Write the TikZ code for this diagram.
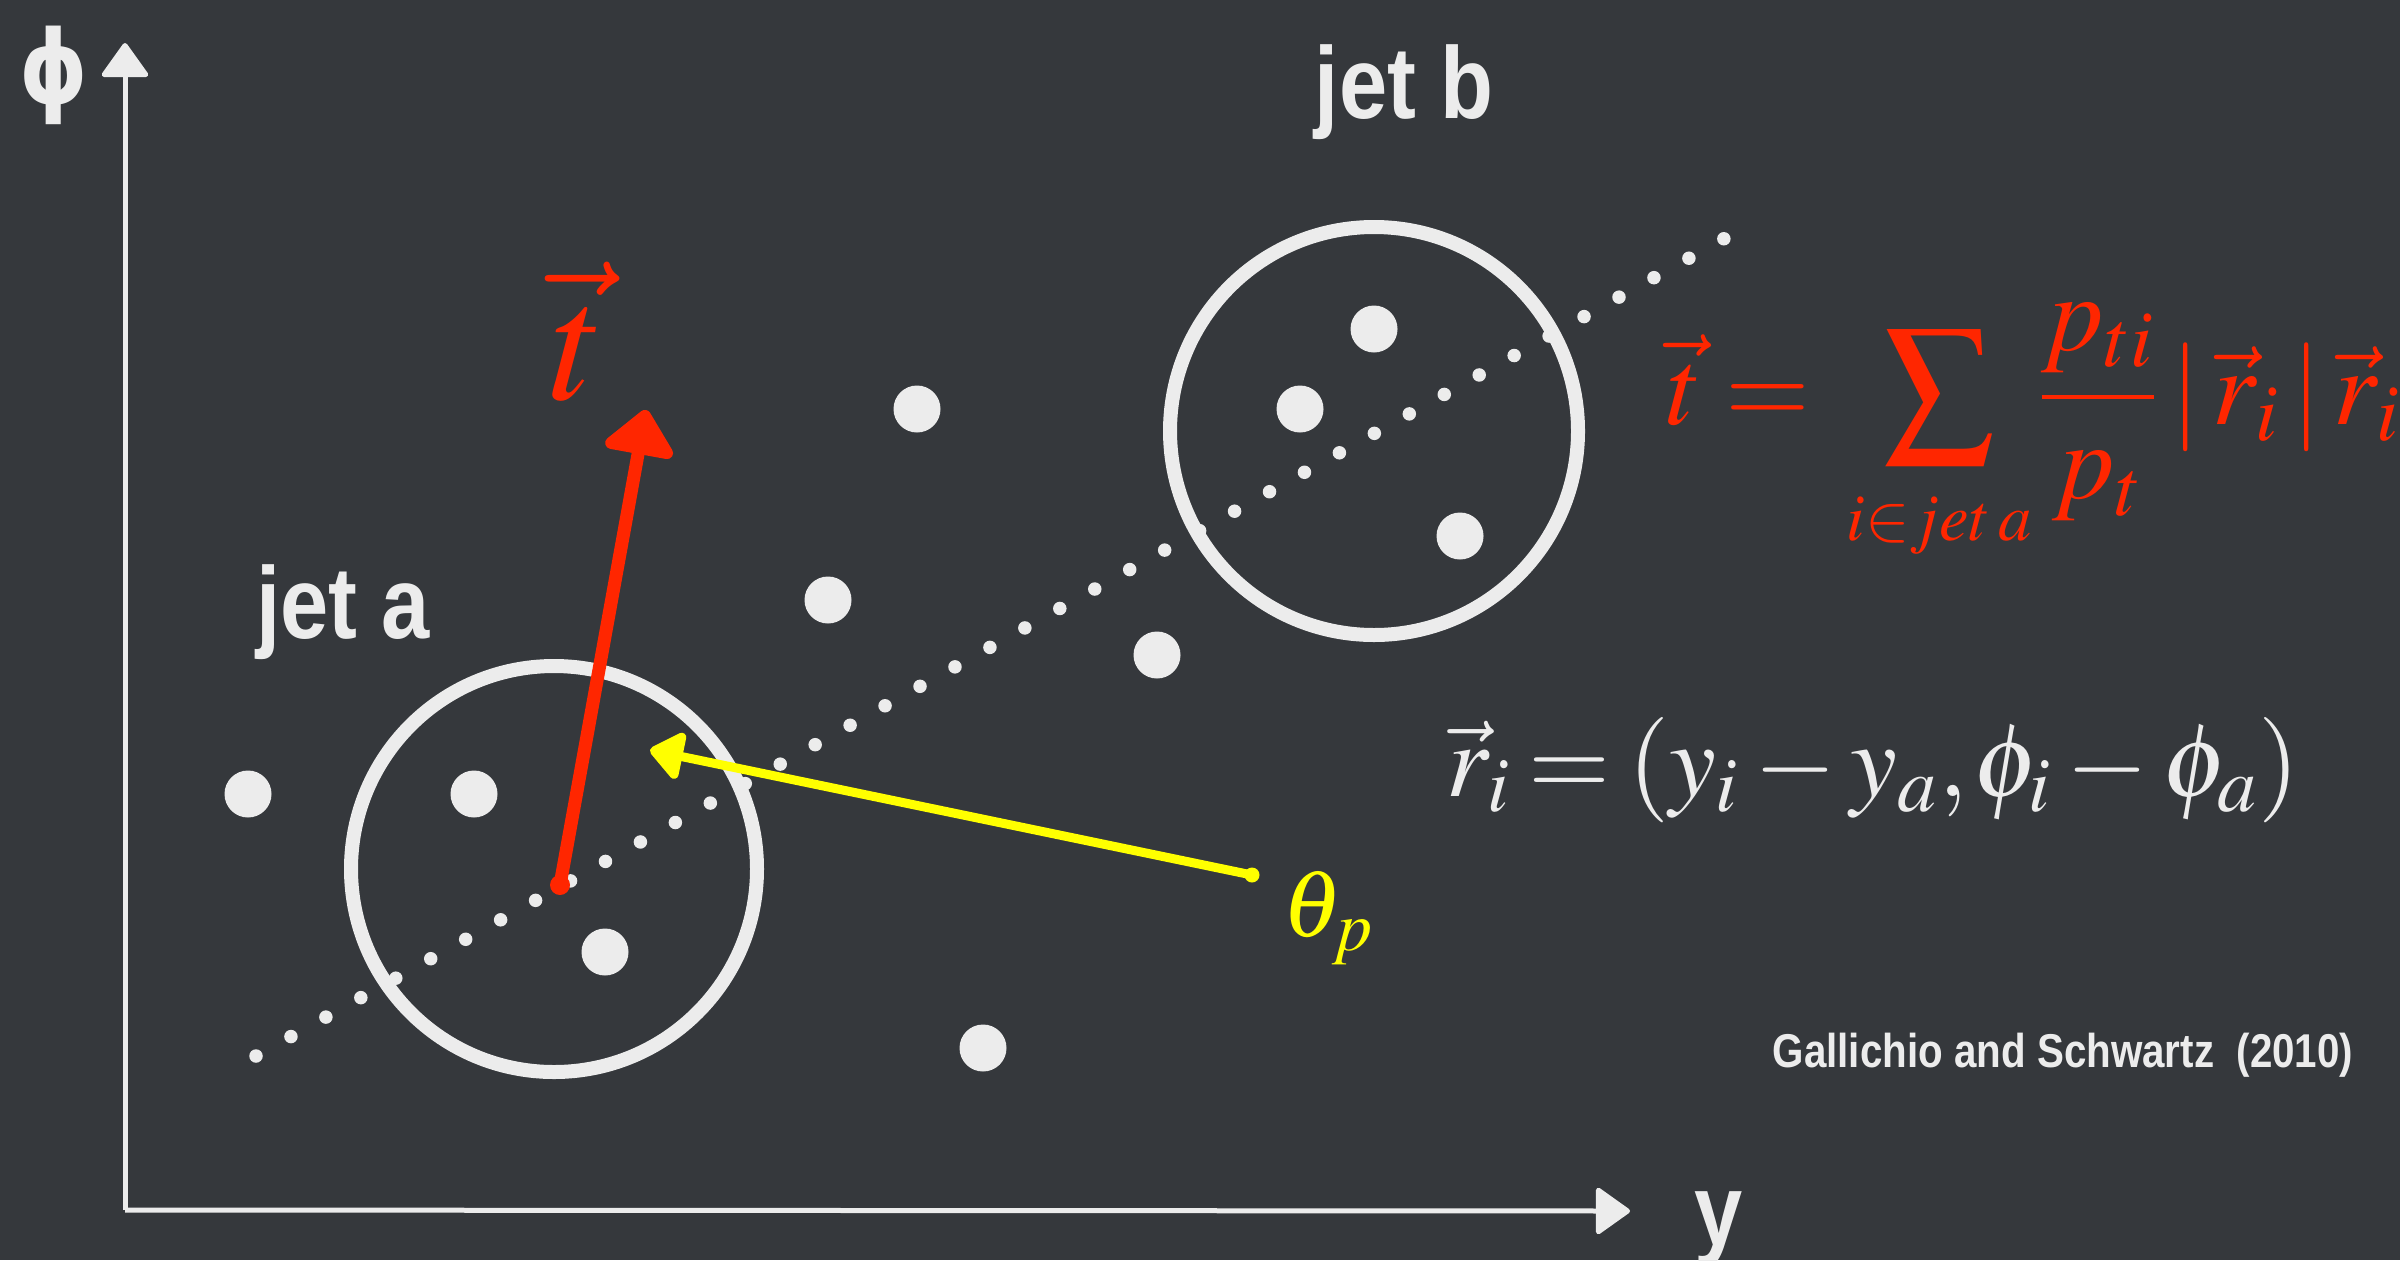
\documentclass[tikz,border=0pt]{standalone}
\usepackage{mathptmx}
\usepackage{fontspec}
\setmainfont{Liberation Serif}
\newfontfamily\labelfont[FakeStretch=0.85]{Liberation Sans}
\newfontfamily\phifont[FakeStretch=0.85]{DejaVu Sans}
\usetikzlibrary{arrows.meta}
\definecolor{slate}{RGB}{53,56,60}
\definecolor{chalk}{RGB}{236,236,236}
\definecolor{vecred}{RGB}{255,38,0}
\definecolor{thetayellow}{RGB}{255,255,0}

\begin{document}
\begin{tikzpicture}[
    particle/.style={circle, fill=chalk, inner sep=0pt, minimum size=4.7mm},
    jetcone/.style={draw=chalk, line width=1.4mm},
    axisline/.style={draw=chalk, line width=0.5mm, -{Triangle[length=3.6mm, width=5mm, round]}},
    axisdots/.style={draw=chalk, line width=1.35mm, line cap=round, dash pattern=on 0pt off 4mm},
    axislabel/.style={text=chalk, font=\labelfont\bfseries\fontsize{29}{34}\selectfont, inner sep=0pt},
    redarrow/.style={draw=vecred, line width=1.3mm, line cap=round, -{Triangle[length=4.8mm, width=8mm, round]}},
    yellowarrow/.style={draw=thetayellow, line width=0.9mm, line cap=round, -{Triangle[length=3.6mm, width=5.4mm, round]}}
]
\fill[slate] (0,0) rectangle (24,12.6);
\useasboundingbox (0,0) rectangle (24,12.6);

% axes
\coordinate (origin) at (1.25,0.50);
\coordinate (phiEnd) at (1.25,12.17);
\coordinate (yEnd) at (16.30,0.49);
\draw[axisline] (origin) -- (phiEnd);
\draw[axisline] (origin) -- (yEnd);
\node[axislabel, font=\phifont\bfseries\fontsize{29}{34}\selectfont] (phiLabel) at (0.54,11.85) {ϕ};
\node[axislabel, anchor=base] (yLabel) at (17.19,0.15) {y};

% jet axis
\coordinate (dotStart) at (2.56,2.04);
\coordinate (dotEnd) at (17.27,10.23);
\draw[axisdots] (dotStart) -- (dotEnd);

% jets
\draw[jetcone] (5.54,3.91) circle (2.03);
\draw[jetcone] (13.74,8.29) circle (2.04);
\node[axislabel, anchor=base] (jetALabel) at (3.43,6.22) {jet a};
\node[axislabel, anchor=base] (jetBLabel) at (14.04,11.42) {jet b};

% particles
\node[particle] (p1) at (2.48,4.66) {};
\node[particle] (p2) at (4.74,4.66) {};
\node[particle] (p3) at (6.05,3.08) {};
\node[particle] (p4) at (9.17,8.51) {};
\node[particle] (p5) at (8.28,6.60) {};
\node[particle] (p6) at (11.57,6.05) {};
\node[particle] (p7) at (9.83,2.12) {};
\node[particle] (p8) at (13.74,9.31) {};
\node[particle] (p9) at (13.00,8.51) {};
\node[particle] (p10) at (14.60,7.24) {};

% pull vector
\coordinate (tTail) at (5.60,3.75);
\coordinate (tTip) at (6.46,8.50);
\draw[redarrow] (tTail) -- (tTip);
\fill[vecred] (tTail) circle (0.1);
\node[text=vecred, font=\fontsize{48}{54}\selectfont] (tLabel) at (5.78,9.28) {$\vec{t}$};

% pull angle
\coordinate (thTail) at (12.52,3.85);
\coordinate (thTip) at (6.50,5.10);
\draw[yellowarrow] (thTail) -- (thTip);
\fill[thetayellow] (thTail) circle (0.075);
\node[text=thetayellow, anchor=west, font=\fontsize{27}{32}\selectfont, inner sep=0pt] (thetaLabel) at (12.82,3.42) {$\theta_p$};

% formulas
\node[text=vecred, anchor=base west, font=\fontsize{31}{36}\selectfont, inner sep=0pt] (tFormula) at (16.66,8.36)
    {$\displaystyle \vec{t}=\mkern8mu\sum_{\makebox[0pt]{\raisebox{-3pt}{\fontsize{19}{20}\selectfont$i{\in}jet\,a$}}}\mkern5mu\frac{p_{ti}}{p_t}\mkern2mu|\,\vec{r}_i\,|\,\vec{r}_i$};
\node[text=chalk, anchor=base west, font=\fontsize{30}{36}\selectfont, inner sep=0pt] (rFormula) at (14.46,4.64)
    {$\thickmuskip=3mu \medmuskip=2.5mu \vec{r}_i=(y_i-y_a{,}\mkern1mu\phi_i-\phi_a)$};
\node[text=chalk, anchor=base west, font=\labelfont\bfseries\fontsize{13.5}{16}\selectfont, inner sep=0pt] (credit) at (17.72,1.93)
    {Gallichio and Schwartz~~(2010)};
\end{tikzpicture}
\end{document}
